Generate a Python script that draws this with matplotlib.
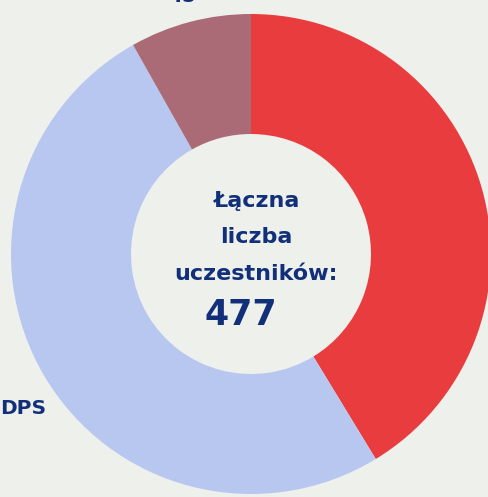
import matplotlib.pyplot as plt

# data
labels = ['', 'DPS', '45']
values = [197, 241, 39]
colors = ['#e93c3f', '#b8c7f0', '#ab6b76']
total = 477
centre_lines = ['Łączna', 'liczba', 'uczestników:']

bg = '#eef0eb'
navy = '#12307a'

fig = plt.figure(figsize=(4.88, 4.97), dpi=100, facecolor=bg)
ax = fig.add_axes([0, 0, 1, 1])
ax.set_facecolor(bg)

wedges, _ = ax.pie(values, colors=colors, startangle=90, counterclock=False,
                   center=(251, 243), radius=240, frame=True,
                   wedgeprops=dict(width=120, linewidth=0))
ax.set_xlim(0, 488)
ax.set_ylim(0, 497)
ax.set_aspect('equal')
ax.axis('off')

# outside labels (red one is off the canvas)
ax.text(46, 89, labels[1], ha='right', va='center', color=navy,
        fontsize=14.5, fontweight='bold')
ax.text(182, 494.5, labels[2], ha='center', va='baseline', color=navy,
        fontsize=14.5, fontweight='bold')

# centre text
for txt, yb in zip(centre_lines, [290, 254, 217]):
    ax.text(256, yb, txt, ha='center', va='baseline', color=navy,
            fontsize=16, fontweight='bold')
ax.text(205, 172, str(total), ha='left', va='baseline', color=navy,
        fontsize=25, fontweight='bold')

fig.savefig('out.png', dpi=100, facecolor=bg)
